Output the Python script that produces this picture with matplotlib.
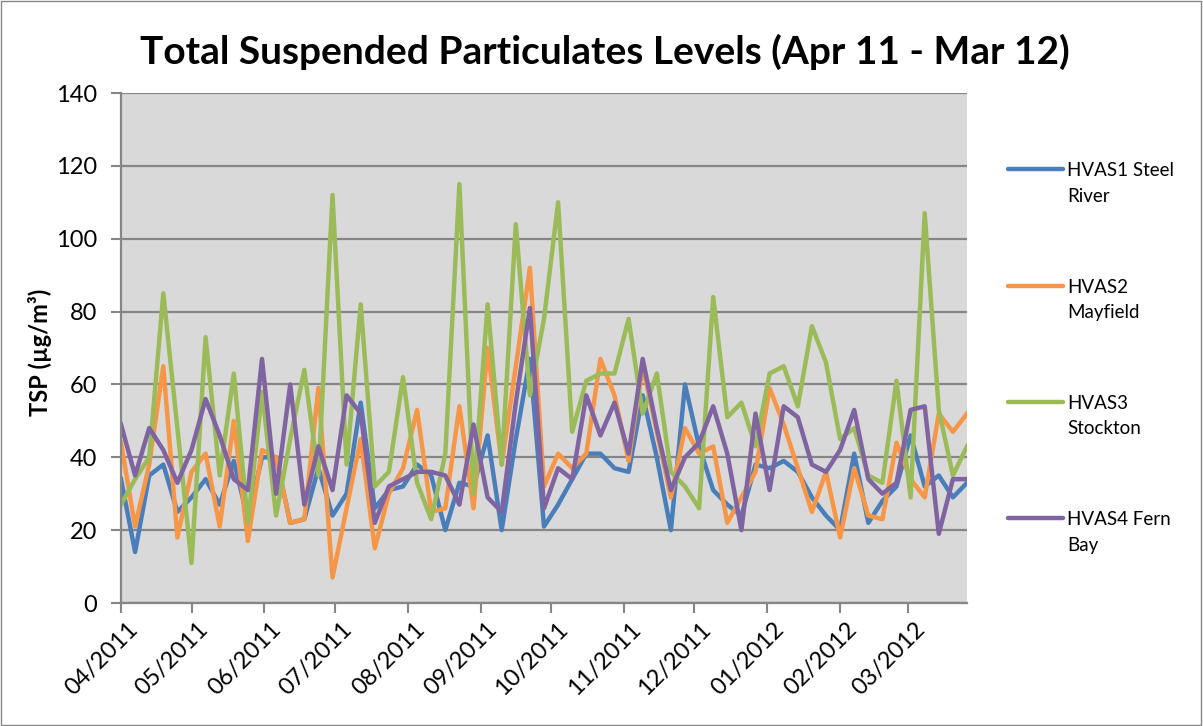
import numpy as np
import pandas as pd
import matplotlib
matplotlib.use('Agg')
import matplotlib.pyplot as plt
import matplotlib.dates as mdates
import matplotlib.transforms as mtransforms
from matplotlib.lines import Line2D
from matplotlib.patches import Rectangle

plt.rcParams['font.family'] = ['Lato', 'DejaVu Sans']

# HVAS samples, one every 6 days from 1 Apr 2011
dates = pd.date_range('2011-04-01', periods=61, freq='6D')

steel_river = [34, 14, 35, 38, 25, 29, 34, 27, 39, 23,
               40, 40, 22, 23, 37, 24, 30, 55, 26, 31,
               32, 38, 35, 20, 33, 32, 46, 20, 45, 67,
               21, 27, 34, 41, 41, 37, 36, 57, 40, 20,
               60, 43, 31, 27, 24, 38, 37, 39, 36, 29,
               24, 20, 41, 22, 28, 32, 46, 32, 35, 29, 33]
mayfield = [44, 21, 38, 65, 18, 36, 41, 21, 50, 17,
            42, 40, 22, 23, 59, 7, 26, 45, 15, 30,
            37, 53, 25, 26, 54, 26, 70, 38, 65, 92,
            32, 41, 37, 41, 67, 57, 39, 65, 47, 29,
            48, 41, 43, 22, 29, 36, 59, 49, 37, 25,
            36, 18, 37, 24, 23, 44, 34, 29, 52, 47, 52]
stockton = [27, 34, 40, 85, 48, 11, 73, 35, 63, 22,
            58, 24, 45, 64, 35, 112, 38, 82, 32, 36,
            62, 33, 23, 41, 115, 30, 82, 38, 104, 57,
            78, 110, 47, 61, 63, 63, 78, 52, 63, 36,
            32, 26, 84, 51, 55, 43, 63, 65, 54, 76,
            66, 45, 48, 35, 33, 61, 29, 107, 53, 35, 43]
fern_bay = [49, 35, 48, 42, 33, 42, 56, 46, 34, 31,
            67, 30, 60, 27, 43, 31, 57, 52, 22, 32,
            34, 36, 36, 35, 27, 49, 29, 25, 55, 81,
            26, 37, 34, 57, 46, 55, 41, 67, 48, 31,
            40, 44, 54, 41, 20, 52, 31, 54, 51, 38,
            36, 42, 53, 34, 30, 33, 53, 54, 19, 34, 34]

series = [steel_river, mayfield, stockton, fern_bay]
labels = ['HVAS1 Steel\nRiver', 'HVAS2\nMayfield', 'HVAS3\nStockton', 'HVAS4 Fern\nBay']
colors = ['#4A7EBB', '#F79646', '#9BBB59', '#8064A2']
title = 'Total Suspended Particulates Levels (Apr 11 - Mar 12)'
grey = '#868686'

W, H = 1203, 726
fig = plt.figure(figsize=(W/100, H/100), dpi=100)
ax = fig.add_axes([121/W, 1 - 603/H, (967 - 121)/W, (603 - 93)/H])
ax.set_facecolor('#D9D9D9')

for vals, c in zip(series, colors):
    ax.plot(dates, vals, color=c, lw=3.2)

ax.set_xlim(dates[0], dates[-1])
ax.set_ylim(0, 140)
ax.set_yticks(np.arange(0, 141, 20))
ax.grid(axis='y', color=grey, lw=1.6)
ax.set_axisbelow(True)
for s in ['top', 'right']:
    ax.spines[s].set_visible(False)
for s in ['left', 'bottom']:
    ax.spines[s].set_color(grey)
    ax.spines[s].set_linewidth(1.6)

ax.xaxis.set_major_locator(mdates.MonthLocator())
ax.xaxis.set_major_formatter(mdates.DateFormatter('%m/%Y'))
ax.tick_params(axis='both', colors=grey, width=1.5, length=7, labelcolor='black')
ax.tick_params(axis='y', labelsize=17, pad=10)
ax.tick_params(axis='x', labelsize=17, pad=4)
shift = mtransforms.ScaledTranslation(6/100, 0, fig.dpi_scale_trans)
for lab in ax.get_xticklabels():
    lab.set_rotation(45)
    lab.set_ha('right')
    lab.set_rotation_mode('anchor')
    lab.set_transform(lab.get_transform() + shift)

fig.text(0.503, 1 - 52/H, title, ha='center', va='center',
         fontsize=28, fontweight='bold')
fig.text(40/W, 1 - 352/H, 'TSP (µg/m³)', rotation=90, ha='center',
         va='center', fontsize=17, fontweight='bold')

# legend drawn by hand so the key sits on the first text line
for k, (lab, c) in enumerate(zip(labels, colors)):
    y = 169.3 + 116.3*k
    fig.add_artist(Line2D([1008/W, 1063/W], [1 - y/H, 1 - y/H], color=c,
                          lw=3.2, solid_capstyle='round',
                          transform=fig.transFigure))
    # baseline of the second line
    fig.text(1067/W, 1 - (y + 32.5)/H, lab, ha='left', va='baseline',
             fontsize=13.5, linespacing=1.6)

fig.add_artist(Rectangle((0.001, 0.002), 0.997, 0.996, fill=False,
                         edgecolor=grey, lw=1, transform=fig.transFigure))

fig.savefig('out.png', dpi=100)
